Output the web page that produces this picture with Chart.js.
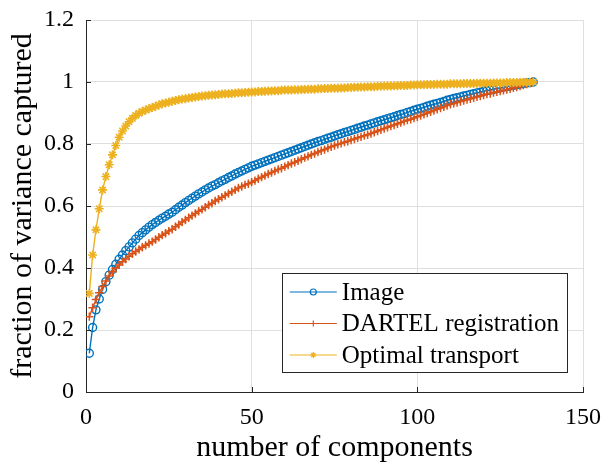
<!DOCTYPE html>
<html>
<head>
<meta charset="utf-8">
<script src="https://cdn.jsdelivr.net/npm/chart.js@4.4.0/dist/chart.umd.min.js"></script>
<style>
html, body { margin: 0; padding: 0; background: #fff; }
#wrap { width: 606px; height: 466px; }
</style>
</head>
<body>
<div id="wrap"><canvas id="varianceChart" width="606" height="466"></canvas></div>
<script>
// number of components kept (1..135)
const components = Array.from({ length: 135 }, (_, i) => i + 1);

const seriesNames = ['Image', 'DARTEL registration', 'Optimal transport'];

const imageVals = [
  0.125, 0.208, 0.265, 0.300, 0.331, 0.356, 0.377, 0.395, 0.412, 0.428,
  0.442, 0.456, 0.468, 0.481, 0.493, 0.505, 0.514, 0.523, 0.532, 0.540,
  0.547, 0.554, 0.561, 0.567, 0.574, 0.580, 0.588, 0.596, 0.603, 0.611,
  0.618, 0.625, 0.632, 0.639, 0.645, 0.652, 0.658, 0.664, 0.669, 0.675,
  0.681, 0.686, 0.692, 0.697, 0.703, 0.708, 0.713, 0.718, 0.723, 0.728,
  0.732, 0.736, 0.740, 0.744, 0.748, 0.752, 0.756, 0.760, 0.764, 0.768,
  0.772, 0.776, 0.780, 0.784, 0.788, 0.792, 0.796, 0.800, 0.804, 0.808,
  0.811, 0.815, 0.819, 0.822, 0.826, 0.830, 0.833, 0.837, 0.840, 0.844,
  0.847, 0.851, 0.854, 0.858, 0.861, 0.865, 0.868, 0.872, 0.875, 0.878,
  0.882, 0.885, 0.888, 0.892, 0.895, 0.898, 0.902, 0.905, 0.909, 0.912,
  0.915, 0.918, 0.922, 0.925, 0.928, 0.931, 0.934, 0.937, 0.941, 0.944,
  0.947, 0.949, 0.952, 0.955, 0.957, 0.960, 0.962, 0.965, 0.967, 0.970,
  0.972, 0.974, 0.976, 0.979, 0.981, 0.983, 0.985, 0.987, 0.989, 0.991,
  0.993, 0.995, 0.997, 0.998, 1.000
];

const dartelVals = [
  0.243, 0.272, 0.298, 0.320, 0.340, 0.358, 0.374, 0.388, 0.400, 0.410,
  0.420, 0.429, 0.438, 0.446, 0.453, 0.460, 0.467, 0.473, 0.479, 0.485,
  0.492, 0.499, 0.506, 0.512, 0.519, 0.525, 0.533, 0.540, 0.548, 0.555,
  0.562, 0.569, 0.576, 0.583, 0.589, 0.596, 0.603, 0.609, 0.616, 0.622,
  0.628, 0.634, 0.640, 0.646, 0.652, 0.658, 0.663, 0.668, 0.672, 0.677,
  0.682, 0.688, 0.693, 0.698, 0.703, 0.708, 0.713, 0.718, 0.722, 0.727,
  0.732, 0.737, 0.741, 0.746, 0.751, 0.756, 0.760, 0.765, 0.769, 0.774,
  0.778, 0.782, 0.787, 0.791, 0.795, 0.799, 0.802, 0.806, 0.809, 0.813,
  0.816, 0.820, 0.823, 0.827, 0.830, 0.834, 0.838, 0.842, 0.846, 0.850,
  0.854, 0.858, 0.861, 0.865, 0.869, 0.873, 0.877, 0.880, 0.884, 0.888,
  0.892, 0.896, 0.900, 0.904, 0.908, 0.912, 0.916, 0.920, 0.924, 0.928,
  0.931, 0.934, 0.937, 0.940, 0.943, 0.946, 0.949, 0.952, 0.955, 0.958,
  0.961, 0.963, 0.966, 0.968, 0.971, 0.973, 0.976, 0.978, 0.981, 0.984,
  0.987, 0.990, 0.993, 0.997, 1.000
];

const otVals = [
  0.318, 0.442, 0.523, 0.591, 0.652, 0.695, 0.733, 0.765, 0.795, 0.822,
  0.842, 0.858, 0.872, 0.883, 0.892, 0.899, 0.905, 0.910, 0.914, 0.918,
  0.922, 0.926, 0.930, 0.932, 0.935, 0.938, 0.940, 0.943, 0.945, 0.946,
  0.948, 0.950, 0.952, 0.953, 0.955, 0.956, 0.957, 0.958, 0.959, 0.960,
  0.961, 0.962, 0.962, 0.963, 0.964, 0.965, 0.965, 0.966, 0.967, 0.968,
  0.968, 0.969, 0.969, 0.970, 0.971, 0.971, 0.972, 0.972, 0.973, 0.974,
  0.974, 0.974, 0.975, 0.975, 0.976, 0.976, 0.977, 0.977, 0.977, 0.978,
  0.978, 0.979, 0.979, 0.980, 0.980, 0.980, 0.981, 0.981, 0.982, 0.982,
  0.983, 0.983, 0.984, 0.984, 0.985, 0.985, 0.985, 0.986, 0.986, 0.987,
  0.987, 0.987, 0.988, 0.988, 0.989, 0.989, 0.989, 0.990, 0.990, 0.991,
  0.991, 0.991, 0.992, 0.992, 0.992, 0.993, 0.993, 0.993, 0.993, 0.994,
  0.994, 0.994, 0.994, 0.995, 0.995, 0.995, 0.995, 0.996, 0.996, 0.996,
  0.996, 0.996, 0.997, 0.997, 0.997, 0.997, 0.998, 0.998, 0.998, 0.998,
  0.999, 0.999, 0.999, 0.999, 1.000
];

const xTicks = [0, 50, 100, 150];
const yTicks = [0, 0.2, 0.4, 0.6, 0.8, 1, 1.2];
const yTickLabels = ['0', '0.2', '0.4', '0.6', '0.8', '1', '1.2'];

const FONT = '"Liberation Serif", "Times New Roman", serif';
const INK = '#262626';

function toPoints(vals) {
    return vals.map((v, i) => ({ x: components[i], y: v }));
}

// matlab style ticks pointing into the axes
const insideTicks = {
    id: 'insideTicks',
    afterDatasetsDraw(chart) {
        const ctx = chart.ctx;
        const xs = chart.scales.x, ys = chart.scales.y;
        const area = chart.chartArea;
        ctx.save();
        ctx.strokeStyle = INK;
        ctx.lineWidth = 1;
        ctx.beginPath();
        xTicks.forEach(v => {
            const px = Math.round(xs.getPixelForValue(v)) + 0.5;
            ctx.moveTo(px, area.bottom);
            ctx.lineTo(px, area.bottom - 5);
        });
        yTicks.forEach(v => {
            const py = Math.round(ys.getPixelForValue(v)) + 0.5;
            ctx.moveTo(area.left, py);
            ctx.lineTo(area.left + 5, py);
        });
        ctx.stroke();
        ctx.restore();
    }
};

// legend box in the lower right of the axes
const boxLegend = {
    id: 'boxLegend',
    afterDraw(chart) {
        const ctx = chart.ctx;
        const area = chart.chartArea;
        const rowH = 31.5;
        const sampleW = 47;
        ctx.save();
        ctx.font = '25px ' + FONT;
        const maxW = Math.max(...seriesNames.map(t => ctx.measureText(t).width));
        const width = 8 + sampleW + 5 + maxW + 8;
        const height = 99;
        const right = area.right - 16;
        const bottom = area.bottom - 20;
        const left = right - width;
        const top = bottom - height;

        ctx.fillStyle = '#fff';
        ctx.fillRect(left, top, width, height);
        ctx.strokeStyle = INK;
        ctx.lineWidth = 1;
        ctx.strokeRect(Math.round(left) + 0.5, Math.round(top) + 0.5, Math.round(width), Math.round(height));

        chart.data.datasets.forEach((ds, i) => {
            const cy = top + 19 + i * rowH;
            const x0 = left + 8;
            ctx.strokeStyle = ds.borderColor;
            ctx.lineWidth = 1.2;
            ctx.beginPath();
            ctx.moveTo(x0, cy);
            ctx.lineTo(x0 + sampleW, cy);
            ctx.stroke();
            ctx.fillStyle = ds.pointBackgroundColor;
            Chart.helpers.drawPoint(ctx, {
                pointStyle: ds.pointStyle,
                radius: 3,
                rotation: 0,
                borderWidth: 1
            }, x0 + sampleW / 2, cy);
            ctx.fillStyle = '#000';
            ctx.textBaseline = 'middle';
            ctx.textAlign = 'left';
            ctx.fillText(ds.label, x0 + sampleW + 5, cy + 1);
        });
        ctx.restore();
    }
};

const ctx = document.getElementById('varianceChart').getContext('2d');
new Chart(ctx, {
    type: 'line',
    data: {
        datasets: [
            {
                label: seriesNames[0],
                data: toPoints(imageVals),
                borderColor: '#0072BD',
                borderWidth: 1.4,
                pointStyle: 'circle',
                pointRadius: 4,
                pointBorderWidth: 1.4,
                pointBorderColor: '#0072BD',
                pointBackgroundColor: 'rgba(0,0,0,0)',
                order: 3
            },
            {
                label: seriesNames[1],
                data: toPoints(dartelVals),
                borderColor: '#D95319',
                borderWidth: 1.4,
                pointStyle: 'cross',
                pointRadius: 4.2,
                pointBorderWidth: 1.5,
                pointBorderColor: '#D95319',
                pointBackgroundColor: '#D95319',
                order: 2
            },
            {
                label: seriesNames[2],
                data: toPoints(otVals),
                borderColor: '#EDB120',
                borderWidth: 1.4,
                pointStyle: 'star',
                pointRadius: 4.5,
                pointBorderWidth: 1.6,
                pointBorderColor: '#EDB120',
                pointBackgroundColor: '#EDB120',
                order: 1
            }
        ]
    },
    options: {
        responsive: false,
        animation: false,
        layout: { padding: { top: 20, right: 23, left: 0, bottom: 0 } },
        plugins: {
            legend: { display: false },
            tooltip: { enabled: false }
        },
        elements: { line: { tension: 0 } },
        scales: {
            x: {
                type: 'linear',
                min: 0,
                max: 150,
                afterBuildTicks: s => { s.ticks = xTicks.map(v => ({ value: v })); },
                afterFit: s => {
                    s.height = 74;
                    s.paddingLeft = 0;
                    s.paddingRight = 0;
                },
                grid: { color: '#dfdfdf', drawTicks: false },
                border: { color: INK, width: 1 },
                ticks: {
                    padding: 11,
                    color: '#000',
                    font: { family: FONT, size: 24 },
                    maxRotation: 0,
                    callback: v => String(v)
                },
                title: {
                    display: true,
                    text: 'number of components',
                    color: '#000',
                    font: { family: FONT, size: 30 },
                    padding: 0
                }
            },
            y: {
                min: 0,
                max: 1.2,
                afterBuildTicks: s => { s.ticks = yTicks.map(v => ({ value: v })); },
                afterFit: s => {
                    s.width = 86;
                    s.paddingTop = 0;
                    s.paddingBottom = 0;
                },
                grid: { color: '#dfdfdf', drawTicks: false },
                border: { color: INK, width: 1 },
                ticks: {
                    padding: 12,
                    color: '#000',
                    font: { family: FONT, size: 24 },
                    callback: (v, i) => yTickLabels[i]
                },
                title: {
                    display: true,
                    text: 'fraction of variance captured',
                    color: '#000',
                    font: { family: FONT, size: 30 },
                    padding: { top: 5, bottom: 0 }
                }
            }
        }
    },
    plugins: [insideTicks, boxLegend]
});
</script>
</body>
</html>
